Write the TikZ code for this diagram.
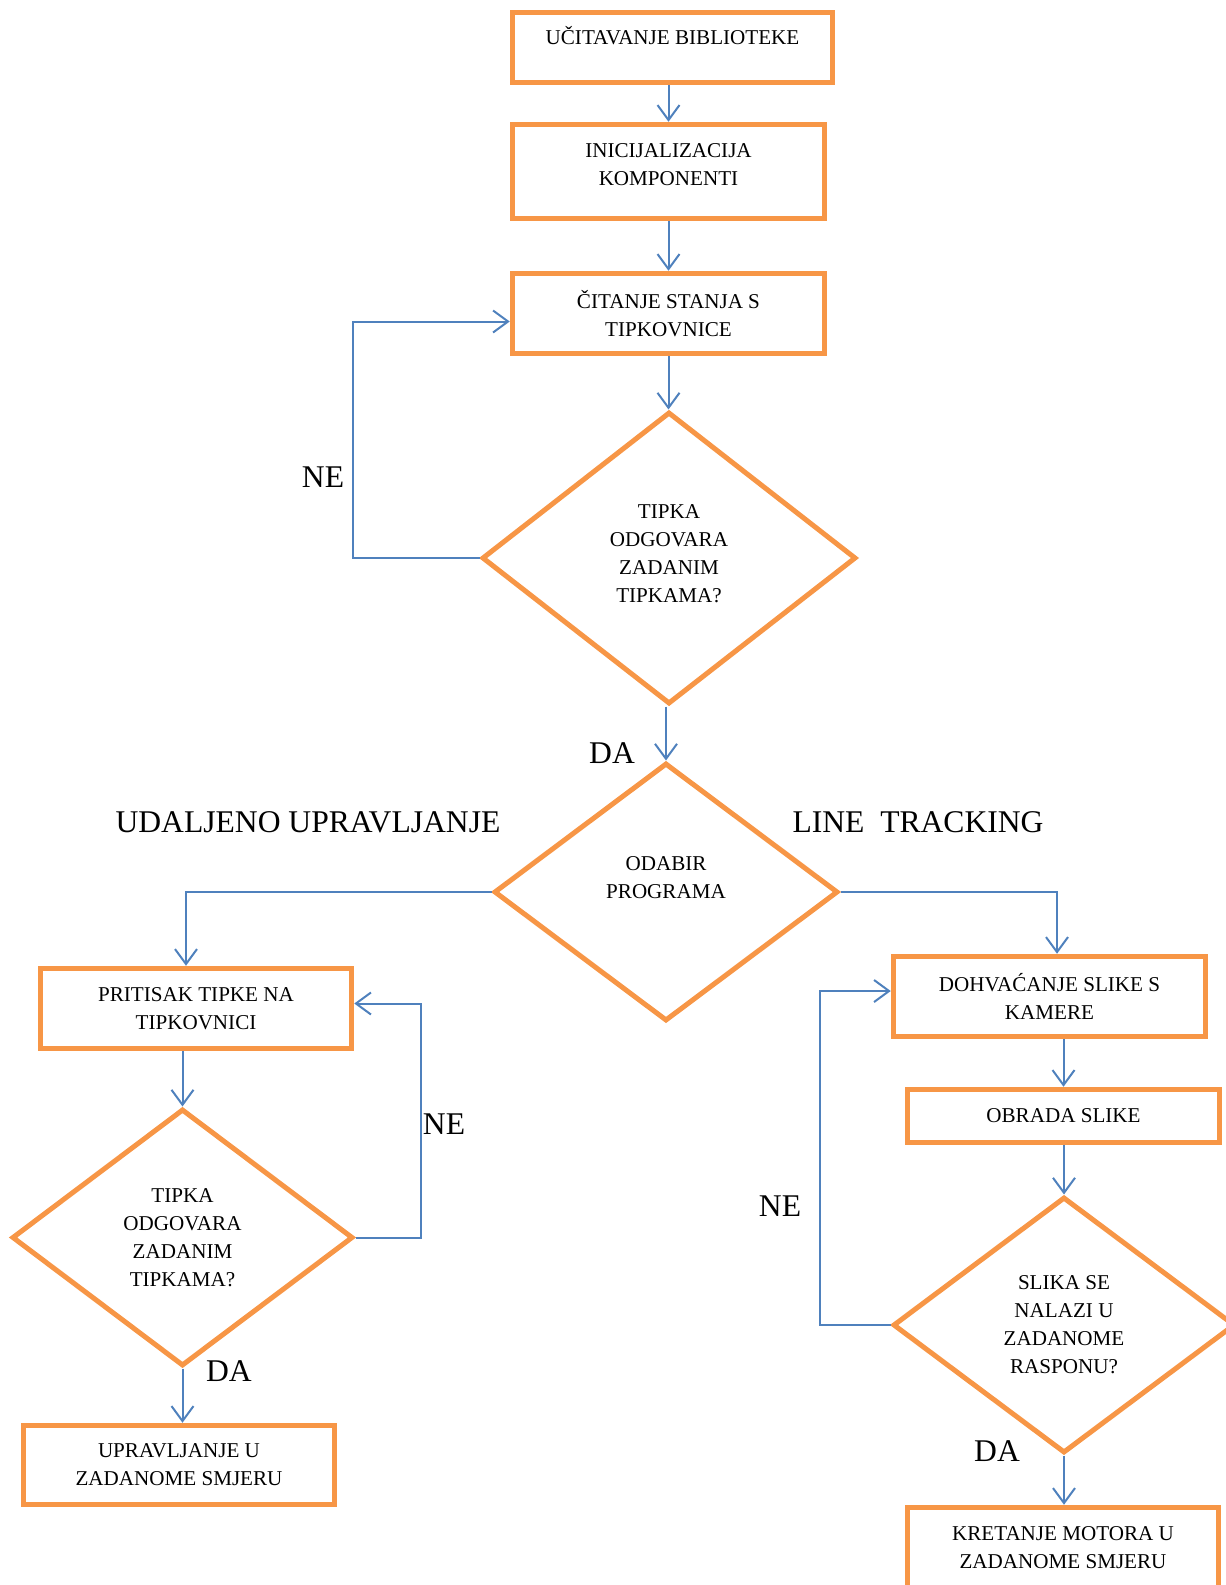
\documentclass[tikz,border=0pt]{standalone}
\usepackage{fontspec}
\setmainfont{Liberation Serif}
\usetikzlibrary{shapes.geometric,arrows.meta,calc,positioning}
\definecolor{boxorange}{HTML}{F79646}
\definecolor{lineblue}{HTML}{4F81BD}

\begin{document}
\begin{tikzpicture}[x=1pt,y=-1pt,
  box/.style={draw=boxorange,line width=5.5pt,rectangle,align=center,inner sep=0pt,font=\fontsize{21.1}{28}\selectfont},
  cond/.style={draw=boxorange,line width=5pt,diamond,align=center,inner sep=0pt,font=\fontsize{21.1}{28}\selectfont},
  flow/.style={draw=lineblue,line width=2pt,-{Straight Barb[length=15pt,width=22pt]}},
  lbl/.style={font=\fontsize{31.6}{38}\selectfont,inner sep=0pt}]

\useasboundingbox (0,0) rectangle (1226,1585);

% main column
\node[box,minimum width=320,minimum height=70,text height=14pt,text depth=21pt] (lib) at (672.5,47.5) {UČITAVANJE BIBLIOTEKE};
\node[box,minimum width=312,minimum height=94,text height=42pt,text depth=15pt] (init) at (668.5,171.5) {INICIJALIZACIJA\\KOMPONENTI};
\node[box,minimum width=312,minimum height=80] (stanje) at (668.5,313.5) {ČITANJE STANJA S\\TIPKOVNICE};
\node[cond,minimum width=374,minimum height=292,text height=98pt,text depth=10pt] (tipka) at (669,558) {TIPKA\\ODGOVARA\\ZADANIM\\TIPKAMA?};
\node[cond,minimum width=344,minimum height=258,text height=42pt,text depth=30pt] (odabir) at (666,892) {ODABIR\\PROGRAMA};

% left branch
\node[box,minimum width=311,minimum height=80] (pritisak) at (196,1008.5) {PRITISAK TIPKE NA\\TIPKOVNICI};
\node[cond,minimum width=341,minimum height=257] (tipka2) at (182.5,1237.5) {TIPKA\\ODGOVARA\\ZADANIM\\TIPKAMA?};
\node[box,minimum width=311,minimum height=79] (smjer) at (179,1465) {UPRAVLJANJE U\\ZADANOME SMJERU};

% right branch
\node[box,minimum width=312,minimum height=80] (dohvat) at (1049.5,996.5) {DOHVAĆANJE SLIKE S\\KAMERE};
\node[box,minimum width=312,minimum height=53] (obrada) at (1063.5,1116) {OBRADA SLIKE};
\node[cond,minimum width=342,minimum height=256] (raspon) at (1064,1325) {SLIKA SE\\NALAZI U\\ZADANOME\\RASPONU?};
\node[box,minimum width=311,minimum height=80] (motor) at (1063,1547.5) {KRETANJE MOTORA U\\ZADANOME SMJERU};

% labels
\node[lbl] (ne1) at (323,477) {NE};
\node[lbl] (da1) at (612,753) {DA};
\node[lbl] (remote) at (308,822) {UDALJENO UPRAVLJANJE};
\node[lbl] (track) at (918,822) {LINE~~TRACKING};
\node[lbl] (ne2) at (444,1124) {NE};
\node[lbl] (da2) at (229,1371) {DA};
\node[lbl] (ne3) at (780,1206) {NE};
\node[lbl] (da3) at (997,1451) {DA};

% connectors
\draw[flow] (init.north |- lib.south) -- (init.north);
\draw[flow] (stanje.north |- init.south) -- (stanje.north);
\draw[flow] (stanje.south) -- (stanje.south |- tipka.north);
\draw[flow] (tipka.west) -- ++(-127,0) |- ($(stanje.west)+(0,8)$);
\draw[flow] (odabir.north |- tipka.south) -- (odabir.north);

\draw[flow] (odabir.west) -| ($(pritisak.north)+(-10,0)$);
\draw[flow] (tipka2.north |- pritisak.south) -- (tipka2.north);
\draw[flow] (tipka2.east) -- ++(65,0) |- ($(pritisak.east)+(0,-5)$);
\draw[flow] (tipka2.south) -- (tipka2.south |- smjer.north);

\draw[flow] (odabir.east) -| ($(dohvat.north)+(7.5,0)$);
\draw[flow] (obrada.north |- dohvat.south) -- (obrada.north);
\draw[flow] (raspon.north |- obrada.south) -- (raspon.north);
\draw[flow] (raspon.west) -- ++(-71,0) |- ($(dohvat.west)+(0,-5.5)$);
\draw[flow] (raspon.south) -- (raspon.south |- motor.north);

\end{tikzpicture}
\end{document}
